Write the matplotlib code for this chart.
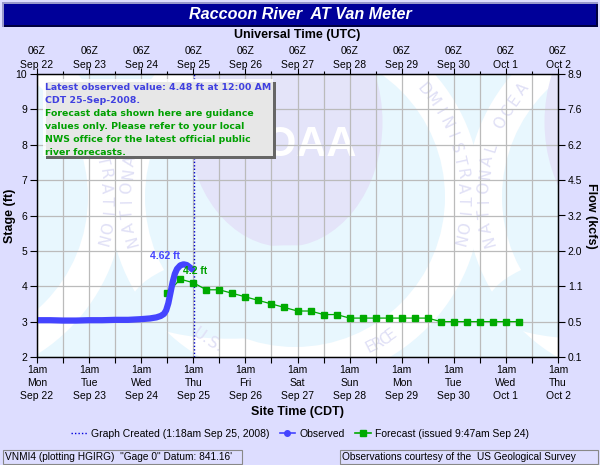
import math
import matplotlib
matplotlib.use('Agg')
import matplotlib.pyplot as plt
from matplotlib.patches import Rectangle, Ellipse
from matplotlib.lines import Line2D

# ---------------- data ----------------
title = 'Raccoon River  AT Van Meter'
utc_times = ['06Z'] * 11
dates = ['Sep 22', 'Sep 23', 'Sep 24', 'Sep 25', 'Sep 26', 'Sep 27',
         'Sep 28', 'Sep 29', 'Sep 30', 'Oct 1', 'Oct 2']
local_times = ['1am'] * 11
weekdays = ['Mon', 'Tue', 'Wed', 'Thu', 'Fri', 'Sat', 'Sun', 'Mon', 'Tue', 'Wed', 'Thu']
# hours since 1am CDT Mon Sep 22
tick_hours = [0, 24, 48, 72, 96, 120, 144, 168, 192, 216, 240]
minor_hours = [12, 36, 60, 84, 108, 132, 156, 180, 204, 228]
stage_ticks = [2, 3, 4, 5, 6, 7, 8, 9, 10]
flow_labels = ['0.1', '0.5', '1.1', '2.0', '3.2', '4.5', '6.2', '7.6', '8.9']

obs_hours = [0, 6, 12, 18, 24, 30, 36, 42, 48, 52, 55, 57, 58.5, 59.5, 60.5,
             61.5, 62.5, 63.5, 64.5, 66, 67.5, 69, 70.5, 71.5]
obs_stage = [3.04, 3.04, 3.03, 3.03, 3.04, 3.04, 3.05, 3.05, 3.07, 3.09, 3.12,
             3.16, 3.22, 3.32, 3.52, 3.82, 4.12, 4.35, 4.49, 4.59, 4.62, 4.60,
             4.53, 4.48]

fc_hours = [60, 66, 72, 78, 84, 90, 96, 102, 108, 114, 120, 126, 132, 138,
            144, 150, 156, 162, 168, 174, 180, 186, 192, 198, 204, 210, 216, 222]
fc_stage = [3.8, 4.2, 4.1, 3.9, 3.9, 3.8, 3.7, 3.6, 3.5, 3.4, 3.3, 3.3, 3.2, 3.2,
            3.1, 3.1, 3.1, 3.1, 3.1, 3.1, 3.1, 3.0, 3.0, 3.0, 3.0, 3.0, 3.0, 3.0]

created_hour = 72.3  # 1:18am Sep 25
obs_peak_label = '4.62 ft'
fc_peak_label = '4.2 ft'

info_line1 = 'Latest observed value: 4.48 ft at 12:00 AM'
info_line2a = 'CDT 25-Sep-2008.'
info_line2b = 'Flood Stage is 16.0 ft.'
info_green = ['Forecast data shown here are guidance',
              'values only. Please refer to your local',
              'NWS office for the latest official public',
              'river forecasts.']

legend_labels = ['Graph Created (1:18am Sep 25, 2008)', 'Observed',
                 'Forecast (issued 9:47am Sep 24)']
footer_left = 'VNMI4 (plotting HGIRG)  "Gage 0" Datum: 841.16\''
footer_right = 'Observations courtesy of the  US Geological Survey'

wm_top = 'NATIONAL OCEANIC AND ATMOSPHERIC ADMINISTRATION'
wm_bottom = 'U.S. DEPARTMENT OF COMMERCE'
wm_word = 'NOAA'

# ---------------- style ----------------
W, H = 600, 465
BG = '#DDDDFF'
OBS = '#4444FF'
FC = '#00AA00'
TXTBLUE = '#4040E0'
ORANGE = '#FF9900'
GREEN = '#00A000'
LBLUE = '#E8F7FE'
LAV = '#E4E4F9'
WMTXT = '#E0E0F6'
SANS = ['Liberation Sans', 'DejaVu Sans']


def fx(x):
    return x / W


def fy(y):
    return 1 - y / H


fig = plt.figure(figsize=(W / 100, H / 100), dpi=100, facecolor=BG)


def frect(x0, y0, x1, y1, color, z=1.0, **kw):
    r = Rectangle((fx(x0), fy(y1)), (x1 - x0) / W, (y1 - y0) / H, transform=fig.transFigure,
                  facecolor=color, zorder=z, **kw)
    fig.patches.append(r)
    return r


# title bar
frect(2, 2, 598, 27, '#000099', edgecolor='none')
frect(2, 25, 598, 27, '#000040', 1.1, edgecolor='none')
frect(596, 2, 598, 27, '#000040', 1.1, edgecolor='none')
frect(2, 2, 598, 4, '#9999CC', 1.1, edgecolor='none')
frect(2, 2, 4, 27, '#9999CC', 1.1, edgecolor='none')
fig.text(0.5, fy(14.5), title, ha='center', va='center', color='white',
         fontsize=11.6, fontweight='bold', fontstyle='italic', family=SANS)

# main axes
AX0, AY0, AX1, AY1 = 37, 74, 558, 357
ax = fig.add_axes([fx(AX0), fy(AY1), (AX1 - AX0) / W, (AY1 - AY0) / H])
ax.set_facecolor('white')
ax.set_xlim(0, 240)
ax.set_ylim(2, 10)


# ---- NOAA watermark (decorative, pixel placed) ----
def add_clipped(p):
    ax.add_patch(p)
    p.set_clip_path(ax.patch)


def disk(cxp, cyp, r, color, z):
    e = Ellipse((fx(cxp), fy(cyp)), 2 * r / W, 2 * r / H, transform=fig.transFigure,
                facecolor=color, edgecolor='none', zorder=z)
    add_clipped(e)
    return e


def arc_text(cxp, cyp, r, text, a0, a1, fs):
    n = len(text)
    for i, ch in enumerate(text):
        a = a0 + (a1 - a0) * i / (n - 1)
        th = math.radians(a)
        x = cxp + r * math.cos(th)
        y = cyp - r * math.sin(th)
        if not (AX0 + 7 < x < AX1 - 7 and AY0 + 7 < y < AY1 - 7) or ch == ' ':
            continue
        rot = a - 90 if a1 < a0 else a + 90
        ax.text(fx(x), fy(y), ch, transform=fig.transFigure, rotation=rot,
                rotation_mode='anchor', ha='center', va='center', fontsize=fs,
                family='DejaVu Sans', color=WMTXT, zorder=0.2, clip_on=True)


bgp = Rectangle((0, 0), 1, 1, transform=ax.transAxes, facecolor=LBLUE,
                edgecolor='none', zorder=0.05)
ax.add_patch(bgp)

for cxp in (-62, 295, 652):
    cyp = 197
    disk(cxp, cyp, 186, 'white', 0.11)
    disk(cxp, cyp, 150, LBLUE, 0.12)
    lav = Ellipse((fx(cxp - 10), fy(cyp - 75)), 195 / W, 250 / H, transform=fig.transFigure,
                  facecolor=LAV, edgecolor='none', zorder=0.13)
    add_clipped(lav)
    sw = Ellipse((fx(cxp - 35), fy(cyp + 95)), 260 / W, 90 / H, angle=8,
                 transform=fig.transFigure, facecolor=LBLUE, edgecolor='none', zorder=0.135)
    add_clipped(sw)
    arc_text(cxp, cyp, 168, wm_top, 195, -15, 11)
    arc_text(cxp, cyp, 168, wm_bottom, 235, 305, 11)
    if AX0 < cxp < AX1:
        ax.text(fx(cxp), fy(cyp - 52), wm_word, transform=fig.transFigure,
                ha='center', va='center', color='white', fontsize=30, fontweight='bold',
                family=SANS, zorder=0.14, clip_on=True)

ax.set_axisbelow(True)
ax.set_xticks(tick_hours)
ax.set_xticks(minor_hours, minor=True)
ax.set_yticks(stage_ticks)
ax.grid(True, which='both', axis='x', color='#BBBBBB', lw=0.9)
ax.grid(True, which='major', axis='y', color='#BBBBBB', lw=0.9)
ax.set_xticklabels([f'{a}\n{b}\n{c}' for a, b, c in zip(local_times, weekdays, dates)],
                   fontsize=7.5, family=SANS, linespacing=1.35)
ax.set_yticklabels([str(v) for v in stage_ticks], fontsize=7.5, family=SANS)
ax.tick_params(axis='x', which='major', length=4, width=0.8, pad=2)
ax.tick_params(axis='x', which='minor', length=4, width=0.8)
ax.tick_params(axis='y', length=5, width=0.8, pad=2)
for s in ax.spines.values():
    s.set_linewidth(0.9)
ax.set_xlabel('Site Time (CDT)', fontsize=9, fontweight='bold', family=SANS, va='center')
ax.xaxis.set_label_coords(0.5, (AY1 - 412) / (AY1 - AY0))
ax.set_ylabel('Stage (ft)', fontsize=9, fontweight='bold', family=SANS, va='center',
              ha='center')
ax.yaxis.set_label_coords((10 - AX0) / (AX1 - AX0), 0.5)

# data
ax.axvline(created_hour, color='#0000CC', ls=(0, (1, 1.5)), lw=1.0, zorder=3)
ax.plot(fc_hours, fc_stage, color=FC, lw=0.9, marker='s', ms=4.2, mec=FC, mfc=FC, zorder=4)
ax.plot(obs_hours, obs_stage, color=OBS, lw=4.5, solid_capstyle='round',
        solid_joinstyle='round', zorder=5)

ip = obs_stage.index(max(obs_stage))
ax.annotate(obs_peak_label, xy=(obs_hours[ip], obs_stage[ip]), xytext=(-13, 6),
            textcoords='offset points', ha='center', va='center', color=OBS,
            fontsize=7.5, fontweight='bold', family=SANS, zorder=6)
jp = fc_stage.index(max(fc_stage))
ax.annotate(fc_peak_label, xy=(fc_hours[jp], fc_stage[jp]), xytext=(11, 6),
            textcoords='offset points', ha='center', va='center', color=GREEN,
            fontsize=7.5, fontweight='bold', family=SANS, zorder=6)

# top axis (UTC)
axt = ax.twiny()
axt.set_xlim(0, 240)
axt.set_xticks(tick_hours)
axt.set_xticks(minor_hours, minor=True)
axt.set_xticklabels([f'{a}\n{b}' for a, b in zip(utc_times, dates)], fontsize=7.5,
                    family=SANS, linespacing=1.4)
axt.tick_params(axis='x', which='major', length=4.3, width=0.8, pad=-1.2)
axt.tick_params(axis='x', which='minor', length=2.5, width=0.8)
axt.set_xlabel('Universal Time (UTC)', fontsize=9, fontweight='bold', family=SANS,
               va='center')
axt.xaxis.set_label_coords(0.5, (AY1 - 35) / (AY1 - AY0))

# right axis (flow)
axr = ax.twinx()
axr.set_ylim(2, 10)
axr.set_yticks(stage_ticks)
axr.set_yticklabels(flow_labels, fontsize=7.5, family=SANS)
axr.tick_params(axis='y', length=5, width=0.8, pad=2)
axr.set_ylabel('Flow (kcfs)', fontsize=9, fontweight='bold', family=SANS,
               rotation=270, va='center', ha='center')
axr.yaxis.set_label_coords((591 - AX0) / (AX1 - AX0), 0.5)

# info box
bx0, by0, bx1, by1 = 43, 79, 273, 156
frect(bx0 + 3, by0 + 3, bx1 + 3, by1 + 3, '#666666', 1.0, edgecolor='none')
frect(bx0, by0, bx1, by1, 'white', 1.2, edgecolor='none', alpha=0.85)
BOXF = dict(fontsize=6.75, fontweight='bold', family='DejaVu Sans', ha='left', va='center')
fig.text(fx(45), fy(87.5), info_line1, color=TXTBLUE, **BOXF)
t2 = fig.text(fx(45), fy(100.5), info_line2a, color=TXTBLUE, **BOXF)
ann = axr.annotate(info_line2b, xy=(1, 0.5), xycoords=t2, xytext=(3, 0),
                   textcoords='offset points', color=ORANGE, annotation_clip=False, **BOXF)
ann.set_zorder(10)
for k, line in enumerate(info_green):
    fig.text(fx(45), fy(113.5 + 13 * k), line, color=GREEN, **BOXF)

# legend
handles = [Line2D([], [], color='#0000DD', ls=(0, (1, 1.5)), lw=1.0),
           Line2D([], [], color=OBS, lw=1.2, marker='o', ms=4),
           Line2D([], [], color=FC, lw=1.2, marker='s', ms=4)]
fig.legend(handles, legend_labels, loc='center', bbox_to_anchor=(0.5, fy(434)), ncol=3,
           frameon=False, prop={'family': SANS, 'size': 7.5}, handlelength=1.5,
           handletextpad=0.4, columnspacing=1.0)


# footer boxes
def footer_box(x0, x1, text):
    frect(x0, 450, x1, 464, BG, 1.0, edgecolor='#888888', lw=0.8)
    fig.text(fx(x0 + 2), fy(457), text, ha='left', va='center', fontsize=7.3,
             family=SANS, color='black')


footer_box(3, 242, footer_left)
footer_box(340, 598, footer_right)

fig.savefig('out.png', dpi=100, facecolor=BG)
